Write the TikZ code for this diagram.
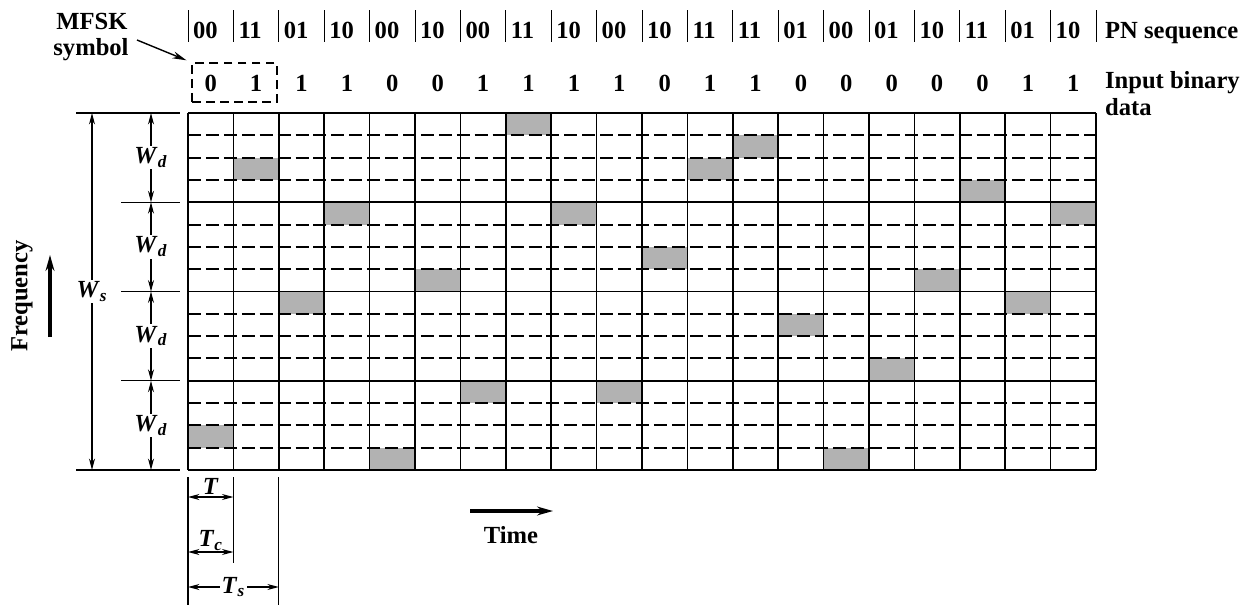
\documentclass[tikz,border=0pt]{standalone}
\usepackage{fontspec}
\setmainfont{Liberation Serif}
\usetikzlibrary{arrows.meta, positioning, calc}
\newcommand{\cw}{45.4}
\newcommand{\rh}{22.3125}
\newcommand{\dimsym}[2]{\textit{#1}\textsubscript{\textit{#2}}}

\begin{document}
\begin{tikzpicture}[
		x=0.02cm, y=-0.02cm,
		font=\fontsize{14}{16}\selectfont\bfseries,
		>={Stealth[length=6.5pt,width=3.4pt]},
		cellline/.style={line width=1pt},
		subline/.style={line width=1.2pt, dash pattern=on 7.4pt off 2.8pt},
		hop/.style={fill=black!30},
		dimline/.style={line width=0.65pt, <->},
		extline/.style={line width=0.65pt},
		barline/.style={line width=0.55pt},
		lbl/.style={inner sep=1pt},
		dimlbl/.style={fill=white, inner sep=1pt},
		bigarrow/.style={line width=1.8pt, -{Stealth[length=9pt,width=5pt]}},
		symframe/.style={draw, line width=0.8pt, dash pattern=on 5pt off 3pt,
			minimum width=1.7cm, minimum height=0.78cm, inner sep=0pt}
		]
		\useasboundingbox (0,0) rectangle (1258,605);
		
		%--- hopped cells ----------------------------------------------------------
		\foreach \c/\r in {0/14,1/2,2/8,3/4,4/15,5/7,6/12,7/0,8/4,9/12,
			10/6,11/2,12/1,13/9,14/15,15/11,16/7,17/3,18/8,19/4}
		\fill[hop] ({188+\c*\cw},{113+\r*\rh}) rectangle ++(\cw,\rh);
		
		%--- time-frequency grid ---------------------------------------------------
		\foreach \r in {1,2,3,5,6,7,9,10,11,13,14,15}
		\draw[subline] (188,{113+\r*\rh}) -- (1096,{113+\r*\rh});
		\foreach \r in {0,4,8,12,16}
		\draw[cellline] (188,{113+\r*\rh}) -- (1096,{113+\r*\rh});
		\foreach \c in {0,...,20}
		\draw[cellline] ({188+\c*\cw},113) -- ({188+\c*\cw},470);
		
		%--- PN sequence and input data -------------------------------------------
		\foreach \c in {0,...,20}
		\draw[barline] ({188+\c*\cw},10) -- ++(0,32);
		\foreach \p [count=\i from 0] in {00,11,01,10,00,10,00,11,10,00,
			10,11,11,01,00,01,10,11,01,10}
		\node[lbl, anchor=base west] (pn\i) at ({191+\i*\cw},38) {\p};
		\node[lbl, anchor=base west] (pnlabel) at (1103,38) {PN sequence};
		
		\foreach \b [count=\i from 0] in {0,1,1,1,0,0,1,1,1,1,0,1,1,0,0,0,0,0,1,1}
		\node[lbl, anchor=base] (bit\i) at ({188+(\i+0.5)*\cw},91) {\b};
		\node[lbl, anchor=base west] (datalabel) at (1103,88) {Input binary};
		\node[lbl, anchor=base west] (datalabel2) at (1103,115) {data};
		
		%--- MFSK symbol ------------------------------------------------------------
		\node[symframe] (symbox) at (234.5,82.5) {};
		\node[lbl, anchor=base] (mfsk) at (92,30) {MFSK};
		\node[lbl, anchor=base] (symlabel) at (91,55) {symbol};
		\coordinate (mfsktail) at (137,40);
		\draw[line width=0.8pt, -{Stealth[length=8pt,width=4pt]}, shorten >=3pt]
		(mfsktail) -- (symbox.north west);
		
		%--- frequency dimensions ---------------------------------------------------
		\foreach \r in {0,16}
		\draw[extline] (76,{113+\r*\rh}) -- (180,{113+\r*\rh});
		\foreach \r in {4,8,12}
		\draw[extline] (121,{113+\r*\rh}) -- (180,{113+\r*\rh});
		\coordinate (wstop) at (92,113);
		\coordinate (wsbot) at (92,470);
		\draw[dimline] (wstop) -- node[dimlbl] (wslabel) {\dimsym{W}{s}} (wsbot);
		\foreach \k in {0,...,3}
		\draw[dimline] (151,{113+4*\k*\rh}) --
		node[dimlbl] (wd\k) {\dimsym{W}{d}} (151,{113+4*(\k+1)*\rh});
		
		\node[lbl, rotate=90] (freq) at (22,296) {Frequency};
		\coordinate (freqtail) at (50,337);
		\coordinate (freqhead) at (50,255);
		\draw[bigarrow] (freqtail) -- (freqhead);
		
		%--- time dimensions --------------------------------------------------------
		\draw[extline] (188,477) -- (188,605);
		\draw[extline] ({188+\cw},477) -- ({188+\cw},563);
		\draw[extline] ({188+2*\cw},477) -- ({188+2*\cw},605);
		\draw[dimline] (188,497) -- node[above, inner sep=1pt] (tlabel) {\textit{T}} ({188+\cw},497);
		\draw[dimline] (188,552) -- node[above, inner sep=0.5pt] (tclabel) {\dimsym{T}{c}} ({188+\cw},552);
		\draw[dimline] (188,587) -- node[dimlbl] (tslabel) {\dimsym{T}{s}} ({188+2*\cw},587);
		
		\node[lbl] (time) at (511,535) {Time};
		\coordinate (timetail) at (470,511);
		\coordinate (timehead) at (553,511);
		\draw[bigarrow] (timetail) -- (timehead);
	\end{tikzpicture}
\end{document}
